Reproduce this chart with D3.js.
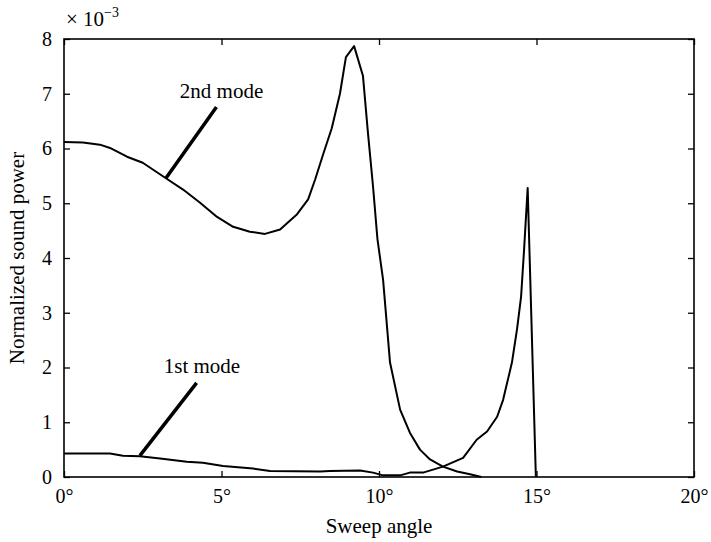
<!DOCTYPE html>
<html>
<head>
<meta charset="utf-8">
<script src="https://cdn.jsdelivr.net/npm/d3@7"></script>
<style>
  html, body { margin: 0; padding: 0; background: #fff; overflow: hidden; }
  svg { display: block; }
  svg text { font-family: "Liberation Serif", "DejaVu Serif", serif; fill: #000; }
</style>
</head>
<body>
<div id="plot"></div>
<script>
// sweep angle (deg) vs normalized sound power (x 1e-3)

const mode1Angle = [0, 1.46, 1.87, 2.41, 3.05, 3.9, 4.41, 5.05, 6.0, 6.54, 8.13, 8.44, 9.4, 9.81,
  10.13, 10.67, 10.98, 11.4, 12.03, 12.67, 13.1, 13.43, 13.75, 13.94, 14.22, 14.38, 14.51, 14.6, 14.72, 14.98];
const mode1Power = [0.43, 0.43, 0.39, 0.38, 0.34, 0.28, 0.26, 0.2, 0.155, 0.11, 0.1, 0.11, 0.12, 0.08,
  0.03, 0.03, 0.08, 0.08, 0.19, 0.35, 0.68, 0.83, 1.1, 1.41, 2.09, 2.69, 3.29, 4.1, 5.28, 0];

const mode2Angle = [0, 0.6, 1.14, 1.46, 2.0, 2.5, 3.2, 3.78, 4.32, 4.86, 5.37, 5.9, 6.38, 6.86, 7.4, 7.75,
  7.97, 8.22, 8.5, 8.76, 8.95, 9.21, 9.49, 9.65, 9.81, 9.95, 10.13, 10.35, 10.67, 10.98, 11.3, 11.62,
  12.03, 12.48, 12.89, 13.25];
const mode2Power = [6.12, 6.11, 6.07, 6.01, 5.85, 5.74, 5.47, 5.25, 5.01, 4.75, 4.57, 4.48, 4.44, 4.52, 4.8, 5.07,
  5.43, 5.88, 6.37, 7.0, 7.67, 7.87, 7.33, 6.28, 5.31, 4.35, 3.6, 2.09, 1.23, 0.81, 0.5, 0.32,
  0.19, 0.1, 0.05, 0.0];

const xTicks = [0, 5, 10, 15, 20];
const yTicks = [0, 1, 2, 3, 4, 5, 6, 7, 8];

// label text, leader start (angle, power), leader end on the curve, label anchor
const labelNames = ["1st mode", "2nd mode"];
const labelLeader = [[4.21, 1.72, 2.41, 0.39], [4.84, 6.76, 3.24, 5.46]];
const labelAnchor = [[4.38, 1.9], [5.0, 6.92]];

const serif = '"Liberation Serif", "DejaVu Serif", serif';

const w = 711;
const h = 542;
const margin = {top: 39, right: 17, bottom: 65, left: 64};
const innerWidth = w - margin.left - margin.right;
const innerHeight = h - margin.top - margin.bottom;

const svg = d3.select("div#plot")
    .append("svg")
    .attr("width", w)
    .attr("height", h);

const x = d3.scaleLinear().domain([0, 20]).range([0, innerWidth]);
const y = d3.scaleLinear().domain([0, 8]).range([innerHeight, 0]);

const g = svg.append("g")
    .attr("transform", `translate(${margin.left}, ${margin.top})`);

function styleAxis(sel) {
  sel.attr("font-family", serif).attr("font-size", 20);
  sel.select(".domain").remove();
  sel.selectAll(".tick line").attr("stroke", "#000").attr("stroke-width", 1.3);
  sel.selectAll(".tick text").style("font-family", serif).style("font-size", "20px");
}

// top and right carry tick marks only
function bareAxis(sel) {
  styleAxis(sel);
  sel.selectAll(".tick text").remove();
}

g.append("g")
    .attr("transform", `translate(0, ${innerHeight})`)
    .call(d3.axisBottom(x).tickValues(xTicks).tickFormat(d => d + "°")
      .tickSizeInner(-6).tickSizeOuter(0).tickPadding(12))
    .call(styleAxis);

g.append("g")
    .call(d3.axisTop(x).tickValues(xTicks)
      .tickSizeInner(-6).tickSizeOuter(0))
    .call(bareAxis);

g.append("g")
    .call(d3.axisLeft(y).tickValues(yTicks).tickFormat(d3.format("d"))
      .tickSizeInner(-6).tickSizeOuter(0).tickPadding(12))
    .call(styleAxis);

g.append("g")
    .attr("transform", `translate(${innerWidth}, 0)`)
    .call(d3.axisRight(y).tickValues(yTicks)
      .tickSizeInner(-6).tickSizeOuter(0))
    .call(bareAxis);

// frame
g.append("rect")
    .attr("width", innerWidth)
    .attr("height", innerHeight)
    .attr("fill", "none")
    .attr("stroke", "#000")
    .attr("stroke-width", 1.6);

const line = d3.line()
    .x(d => x(d[0]))
    .y(d => y(d[1]));

const series = [
  d3.zip(mode1Angle, mode1Power),
  d3.zip(mode2Angle, mode2Power)
];

g.selectAll(".curve")
  .data(series)
  .enter().append("path")
    .attr("class", "curve")
    .attr("d", line)
    .attr("fill", "none")
    .attr("stroke", "#000")
    .attr("stroke-width", 2)
    .attr("stroke-linejoin", "round");

// leaders and labels
g.selectAll(".leader")
  .data(labelLeader)
  .enter().append("line")
    .attr("class", "leader")
    .attr("x1", d => x(d[0]))
    .attr("y1", d => y(d[1]))
    .attr("x2", d => x(d[2]))
    .attr("y2", d => y(d[3]))
    .attr("stroke", "#000")
    .attr("stroke-width", 3.5);

g.selectAll(".mode-label")
  .data(labelNames)
  .enter().append("text")
    .attr("class", "mode-label")
    .attr("x", (d, i) => x(labelAnchor[i][0]))
    .attr("y", (d, i) => y(labelAnchor[i][1]))
    .attr("text-anchor", "middle")
    .style("font-family", serif)
    .style("font-size", "21px")
    .text(d => d);

// exponent above the y axis
const expo = svg.append("text")
    .attr("x", 66)
    .attr("y", 26)
    .style("font-family", serif)
    .style("font-size", "21px");
expo.append("tspan").text("× 10");
expo.append("tspan").attr("dy", -9).style("font-size", "14px").text("−3");

svg.append("text")
    .attr("x", margin.left + innerWidth / 2)
    .attr("y", 533)
    .attr("text-anchor", "middle")
    .style("font-family", serif)
    .style("font-size", "21px")
    .text("Sweep angle");

svg.append("text")
    .attr("transform", `translate(24, ${margin.top + innerHeight / 2}) rotate(-90)`)
    .attr("text-anchor", "middle")
    .style("font-family", serif)
    .style("font-size", "21px")
    .text("Normalized sound power");
</script>
</body>
</html>
